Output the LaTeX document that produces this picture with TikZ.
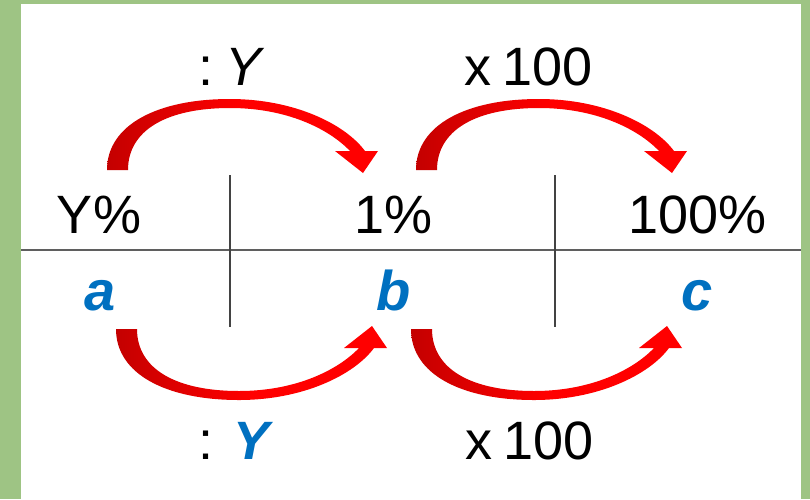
\documentclass[tikz,border=0pt]{standalone}
\usepackage{fontspec}
\setmainfont{Liberation Sans}
\usetikzlibrary{calc}
\definecolor{cGrass}{RGB}{158,196,132}
\definecolor{cRed}{RGB}{255,0,0}
\definecolor{cRedDark}{RGB}{196,0,0}
\definecolor{cBlue}{RGB}{0,112,192}
\definecolor{cRule}{RGB}{95,95,95}
% curved red arrow, tail at #1, #2 = 1 over the line, -1 under it
\newcommand{\bendarrow}[2]{%
  \shade[left color=cRedDark,right color=cRed,middle color=cRed,shift={(#1)},yscale=#2]
    (-10,0) .. controls (-10,-45) and (40,-71) .. (113,-71)
    .. controls (177,-71) and (228,-46) .. (248,-19)
    -- (261,-19) -- (246,3) -- (218,-19) -- (233,-19)
    .. controls (212,-41) and (170,-62) .. (113,-62)
    .. controls (50,-62) and (11,-40) .. (11,0) -- cycle;}
\tikzset{
  big/.style={font=\fontsize{54}{60}\selectfont,inner sep=0pt,anchor=base},
  var/.style={big,text=cBlue,font=\fontsize{56}{60}\selectfont\bfseries\itshape},
}
\begin{document}
\begin{tikzpicture}[x=1pt,y=-1pt]
  \fill[cGrass] (0,0) rectangle (810,499);
  \fill[white] (21,4) rectangle (801,499);
  % table rules
  \draw[cRule,line width=2.5pt] (21,250) -- (801,250);
  \draw[cRule!70!black,line width=1.5pt] (230,175) -- (230,327);
  \draw[cRule!70!black,line width=1.5pt] (555,175) -- (555,327);
  % percentages and values
  \node[big] (ypct) at (99,233) {Y\%};
  \node[big] (onepct) at (393.5,233) {1\%};
  \node[big] (fullpct) at (697.5,233) {100\%};
  \node[var] (va) at (100,310) {a};
  \node[var] (vb) at (394,310) {b};
  \node[var] (vc) at (697,310) {c};
  % operations
  \node[big] (divtop) at (232,85) {:\hspace{.22em}\textit{Y}};
  \node[big] (multop) at (528.5,85) {x\hspace{.2em}100};
  \node[big] (divbot) at (234,459) {: \textcolor{cBlue}{\bfseries\itshape Y}};
  \node[big] (mulbot) at (529.5,459) {x\hspace{.2em}100};
  % arrows
  \coordinate (tailA) at (117,170);
  \coordinate (tailB) at (426,170);
  \coordinate (tailC) at (126,329);
  \coordinate (tailD) at (421,329);
  \bendarrow{tailA}{1}
  \bendarrow{tailB}{1}
  \bendarrow{tailC}{-1}
  \bendarrow{tailD}{-1}
\end{tikzpicture}
\end{document}
